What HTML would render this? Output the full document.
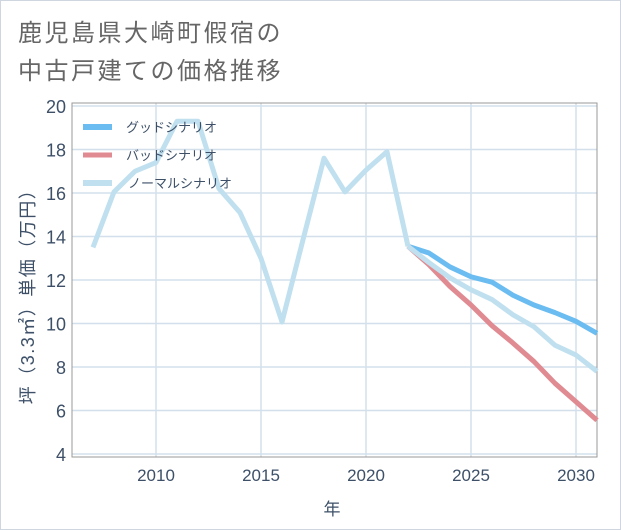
<!DOCTYPE html>
<html><head><meta charset="utf-8">
<style>
body{margin:0;background:#fff;}
svg{display:block;font-family:"Liberation Sans","Noto Sans CJK JP",sans-serif;}
</style></head>
<body>
<svg id="chart" width="621" height="530" xmlns="http://www.w3.org/2000/svg">
<rect x="0.5" y="0.5" width="620" height="529" fill="#fff" stroke="#cfd6e0"/>
<text x="18" y="41" font-size="24" letter-spacing="2.5" fill="#666">鹿児島県大崎町假宿の</text>
<text x="18" y="79" font-size="24" letter-spacing="2.5" fill="#666">中古戸建ての価格推移</text>
<g id="grid"></g>
<rect x="72" y="103" width="525" height="354" fill="none" stroke="#999" stroke-width="1"/>
<g id="series"></g>
<g id="axes"></g>
<text x="332" y="515" font-size="17" fill="#3d5068" text-anchor="middle">年</text>
<text transform="translate(34,292) rotate(-90)" font-size="18" letter-spacing="1.5" fill="#3d5068" text-anchor="middle">坪（3.3㎡）単価（万円）</text>
<g id="legend"></g>
</svg>
<script>
const years=[2007,2008,2009,2010,2011,2012,2013,2014,2015,2016,2017,2018,2019,2020,2021,2022];
const normalHist=[13.5,16.05,17.0,17.4,19.3,19.3,16.2,15.1,13.0,10.07,13.85,17.6,16.05,17.05,17.9,13.55];
const futureYears=[2022,2023,2024,2025,2026,2027,2028,2029,2030,2031];
const goodVals=[13.55,13.24,12.6,12.15,11.9,11.3,10.85,10.5,10.1,9.55];
const badVals=[13.55,12.7,11.7,10.85,9.9,9.1,8.25,7.25,6.4,5.55];
const normalFuture=[13.55,12.8,12.1,11.55,11.1,10.4,9.85,9.0,8.55,7.8];
const yTicks=[4,6,8,10,12,14,16,18,20];
const xTicks=[2010,2015,2020,2025,2030];
const legendLabels=["グッドシナリオ","バッドシナリオ","ノーマルシナリオ"];

const NS="http://www.w3.org/2000/svg";
const X=v=>156+(v-2010)*21;
const Y=v=>454-(v-4)*21.75;
const mk=(t,a,p)=>{const e=document.createElementNS(NS,t);for(const k in a)e.setAttribute(k,a[k]);p.appendChild(e);return e;};
const grid=document.getElementById('grid'),axes=document.getElementById('axes'),series=document.getElementById('series'),legend=document.getElementById('legend');
yTicks.forEach(v=>{
  const l=mk('line',{x1:72,x2:597,y1:Y(v),y2:Y(v),stroke:'#d3e0ec','stroke-width':1.5},grid);
  
  
  const t=mk('text',{x:66,y:Y(v)+7,'font-size':18,fill:'#3d5068','text-anchor':'end'},axes);
  t.textContent=v;
  
  
});
xTicks.forEach(v=>{
  const l=mk('line',{x1:X(v),x2:X(v),y1:103,y2:457,stroke:'#d3e0ec','stroke-width':1.5},grid);
  
  
  const t=mk('text',{x:X(v),y:481,'font-size':17,fill:'#3d5068','text-anchor':'middle'},axes);
  t.textContent=v;
  
  
});
function line(xs,ys,color,w,name){
  const p=mk('polyline',{points:xs.map((x,i)=>X(x)+','+Y(ys[i])).join(' '),fill:'none',stroke:color,'stroke-width':w,'stroke-linejoin':'round'},series);
  
  
}
line(futureYears,goodVals,'#6bbcf0',5,'good-scenario-line');
line(futureYears,badVals,'#e08a92',5,'bad-scenario-line');
line(years,normalHist,'#c0e0ef',5,'normal-history-line');
line(futureYears,normalFuture,'#c0e0ef',5,'normal-scenario-line');
const lc=['#6bbcf0','#e08a92','#c0e0ef'];
legendLabels.forEach((s,i)=>{
  const y=127+i*28;
  const r=mk('line',{x1:83,x2:112,y1:y,y2:y,stroke:lc[i],'stroke-width':i==1?5:6},legend);
  
  
  const t=mk('text',{x:i==2?128:126,y:y+5,'font-size':13,fill:'#3d5068'},legend);
  t.textContent=s;
  
  
});
</script>
</body></html>
